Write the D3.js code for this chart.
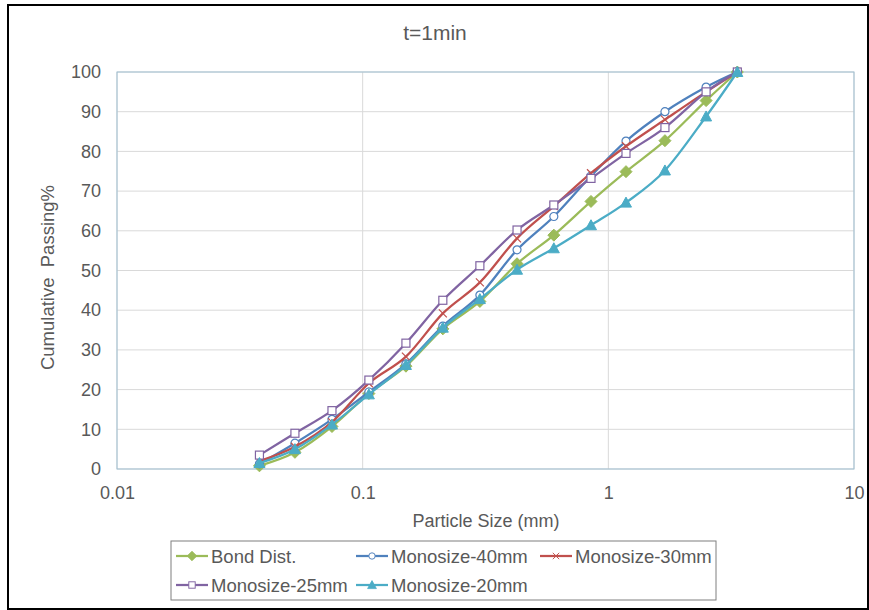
<!DOCTYPE html>
<html>
<head>
<meta charset="utf-8">
<script src="https://cdn.jsdelivr.net/npm/d3@7"></script>
<style>
  html, body { margin: 0; padding: 0; background: #fff; }
  svg { display: block; font-family: "Liberation Sans", Arial, sans-serif; }
</style>
</head>
<body>
<svg id="chart" width="869" height="610"></svg>
<script>
// Sieve sizes (mm) and cumulative passing (%) for each feed type
const sizes = [0.038, 0.053, 0.075, 0.106, 0.15, 0.212, 0.3, 0.425, 0.6, 0.85, 1.18, 1.7, 2.5, 3.35];
const bondDist   = [0.8, 4.2, 10.7, 19.0, 25.9, 35.3, 42.2, 51.7, 58.9, 67.4, 74.9, 82.7, 92.8, 100];
const mono40     = [1.3, 6.5, 12.5, 19.4, 26.5, 36.0, 43.8, 55.2, 63.6, 73.8, 82.6, 90.0, 96.2, 100];
const mono30     = [2.0, 5.6, 11.8, 21.6, 28.3, 39.2, 47.0, 58.1, 66.2, 74.5, 81.3, 88.0, 95.0, 100];
const mono25     = [3.5, 9.0, 14.7, 22.4, 31.7, 42.5, 51.2, 60.2, 66.5, 73.2, 79.5, 86.0, 95.0, 100];
const mono20     = [1.5, 5.0, 11.2, 18.8, 26.2, 35.6, 42.8, 50.2, 55.6, 61.4, 67.1, 75.2, 88.8, 100];

const seriesNames = ["Bond Dist.", "Monosize-40mm", "Monosize-30mm", "Monosize-25mm", "Monosize-20mm"];
const seriesValues = [bondDist, mono40, mono30, mono25, mono20];
const seriesColors = ["#9BBB59", "#4F81BD", "#C0504D", "#8064A2", "#4BACC6"];
const seriesMarkers = ["diamond", "circle", "cross", "square", "triangle"];

const xTicks = [0.01, 0.1, 1, 10];
const yTicks = [0, 10, 20, 30, 40, 50, 60, 70, 80, 90, 100];

const svg = d3.select("#chart");
const textColor = "#595959";

// outer frame
svg.append("rect")
  .attr("x", 8).attr("y", 5).attr("width", 860).attr("height", 604)
  .attr("fill", "none").attr("stroke", "#000").attr("stroke-width", 2);

const plot = { left: 117, right: 854, top: 72, bottom: 469 };

const x = d3.scaleLog().domain([0.01, 10]).range([plot.left, plot.right]);
const y = d3.scaleLinear().domain([0, 100]).range([plot.bottom, plot.top]);

// horizontal gridlines
svg.append("g")
  .selectAll("line").data(yTicks).join("line")
  .attr("x1", plot.left).attr("x2", plot.right)
  .attr("y1", d => y(d)).attr("y2", d => y(d))
  .attr("stroke", "#d9d9d9").attr("stroke-width", 1);

// vertical gridlines at decades
svg.append("g")
  .selectAll("line").data(xTicks).join("line")
  .attr("x1", d => x(d)).attr("x2", d => x(d))
  .attr("y1", plot.top).attr("y2", plot.bottom)
  .attr("stroke", "#d9d9d9").attr("stroke-width", 1);

// plot area border
svg.append("rect")
  .attr("x", plot.left).attr("y", plot.top)
  .attr("width", plot.right - plot.left).attr("height", plot.bottom - plot.top)
  .attr("fill", "none").attr("stroke", "#9fbfd2").attr("stroke-width", 1);

// axes (labels only, no tick marks)
const yAxis = svg.append("g")
  .attr("transform", `translate(${plot.left},0)`)
  .call(d3.axisLeft(y).tickValues(yTicks).tickSize(0).tickPadding(16).tickFormat(d3.format("d")));
yAxis.select(".domain").remove();
yAxis.selectAll("text").attr("fill", textColor).attr("font-size", 18).attr("font-family", "Liberation Sans, Arial, sans-serif");

const xAxis = svg.append("g")
  .attr("transform", `translate(0,${plot.bottom})`)
  .call(d3.axisBottom(x).tickValues(xTicks).tickSize(0).tickPadding(17).tickFormat(d => String(d)));
xAxis.select(".domain").remove();
xAxis.selectAll("text").attr("fill", textColor).attr("font-size", 18).attr("font-family", "Liberation Sans, Arial, sans-serif");

// titles
svg.append("text")
  .attr("x", 435).attr("y", 40).attr("text-anchor", "middle")
  .attr("font-size", 21).attr("fill", textColor).text("t=1min");

svg.append("text")
  .attr("x", 486).attr("y", 527).attr("text-anchor", "middle")
  .attr("font-size", 18).attr("fill", textColor).text("Particle Size (mm)");

svg.append("text")
  .attr("transform", `translate(54,${(plot.top + plot.bottom) / 2 + 7}) rotate(-90)`)
  .attr("text-anchor", "middle")
  .attr("font-size", 18.5).attr("fill", textColor)
  .attr("xml:space", "preserve").style("white-space", "pre")
  .text("Cumulative  Passing%");

// marker drawing
function drawMarker(g, type, color) {
  if (type === "diamond") {
    g.append("path").attr("d", "M0,-6L6,0L0,6L-6,0Z").attr("fill", color).attr("stroke", color).attr("stroke-width", 1);
  } else if (type === "circle") {
    g.append("circle").attr("r", 4).attr("fill", "#fff").attr("stroke", color).attr("stroke-width", 1.2);
  } else if (type === "cross") {
    g.append("path").attr("d", "M-4,-4L4,4M-4,4L4,-4").attr("fill", "none").attr("stroke", color).attr("stroke-width", 1.2);
  } else if (type === "square") {
    g.append("rect").attr("x", -4).attr("y", -4).attr("width", 8).attr("height", 8)
      .attr("fill", "#fff").attr("stroke", color).attr("stroke-width", 1.2);
  } else if (type === "triangle") {
    g.append("path").attr("d", "M0,-5.5L5.5,4.5L-5.5,4.5Z").attr("fill", color).attr("stroke", color).attr("stroke-width", 1);
  }
}

const line = d3.line()
  .x(d => x(d[0]))
  .y(d => y(d[1]))
  .curve(d3.curveCatmullRom.alpha(0));

const seriesG = svg.append("g");
seriesValues.forEach((vals, i) => {
  const pts = sizes.map((s, j) => [s, vals[j]]);
  const g = seriesG.append("g");
  g.append("path").datum(pts)
    .attr("d", line)
    .attr("fill", "none")
    .attr("stroke", seriesColors[i])
    .attr("stroke-width", 2.25)
    .attr("stroke-linejoin", "round");
  pts.forEach(p => {
    const m = g.append("g").attr("transform", `translate(${x(p[0])},${y(p[1])})`);
    drawMarker(m, seriesMarkers[i], seriesColors[i]);
  });
});

// legend
const legend = svg.append("g");
legend.append("rect")
  .attr("x", 171).attr("y", 541).attr("width", 545).attr("height", 59)
  .attr("fill", "#fff").attr("stroke", "#7f7f7f").attr("stroke-width", 1);

const legendPos = [
  { x: 176, y: 556 }, { x: 356, y: 556 }, { x: 540, y: 556 },
  { x: 176, y: 585 }, { x: 356, y: 585 }
];
seriesNames.forEach((name, i) => {
  const p = legendPos[i];
  const g = legend.append("g").attr("transform", `translate(${p.x},${p.y})`);
  g.append("line").attr("x1", 0).attr("x2", 32).attr("y1", 0).attr("y2", 0)
    .attr("stroke", seriesColors[i]).attr("stroke-width", 2.25);
  const m = g.append("g").attr("transform", "translate(16,0) scale(0.8)");
  drawMarker(m, seriesMarkers[i], seriesColors[i]);
  g.append("text").attr("x", 35).attr("y", 6.5)
    .attr("font-size", 18.5).attr("fill", textColor).text(name);
});
</script>
</body>
</html>
